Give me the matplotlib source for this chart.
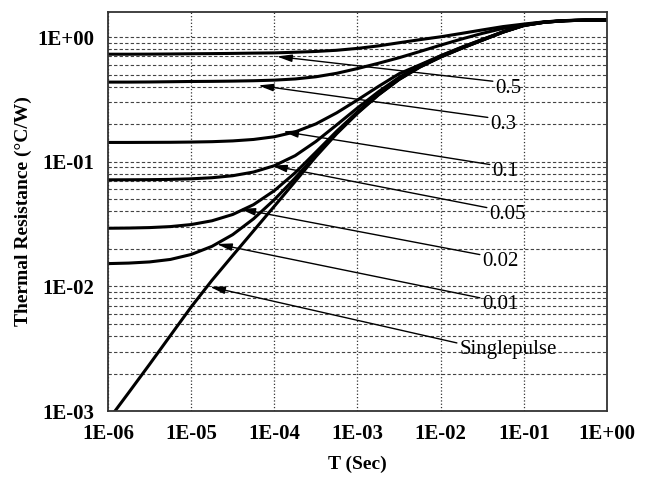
import matplotlib
matplotlib.use('Agg')
import matplotlib.pyplot as plt

# pulse width (s), quarter-decade steps
T = [1e-6, 1.78e-6, 3.16e-6, 5.62e-6, 1e-5, 1.78e-5, 3.16e-5, 5.62e-5,
     1e-4, 1.78e-4, 3.16e-4, 5.62e-4, 1e-3, 1.78e-3, 3.16e-3, 5.62e-3,
     1e-2, 1.78e-2, 3.16e-2, 5.62e-2, 1e-1, 0.178, 0.316, 0.562, 1.0]

# thermal resistance (C/W), one list per duty cycle
z_05 = [0.730, 0.730, 0.731, 0.733, 0.736, 0.738, 0.741, 0.745, 0.748, 0.757, 0.768, 0.785,
        0.813, 0.851, 0.902, 0.955, 1.007, 1.072, 1.143, 1.216, 1.274, 1.328, 1.360, 1.372, 1.374]
z_03 = [0.436, 0.436, 0.437, 0.439, 0.441, 0.442, 0.444, 0.447, 0.452, 0.462, 0.481, 0.513,
        0.560, 0.617, 0.684, 0.767, 0.863, 0.966, 1.072, 1.175, 1.259, 1.326, 1.359, 1.371, 1.374]
z_01 = [0.1430, 0.1430, 0.1432, 0.1434, 0.1440, 0.1450, 0.1471, 0.1511, 0.1588, 0.1737, 0.2014, 0.2471,
        0.3136, 0.4018, 0.5087, 0.600, 0.710, 0.830, 0.957, 1.105, 1.250, 1.322, 1.357, 1.371, 1.374]
z_005 = [0.07165, 0.07172, 0.07188, 0.07222, 0.07299, 0.07450, 0.07731, 0.08276, 0.09302, 0.1120, 0.1455, 0.1978,
         0.2706, 0.3642, 0.4759, 0.5921, 0.7071, 0.8270, 0.9572, 1.103, 1.245, 1.320, 1.356, 1.370, 1.374]
z_002 = [0.02929, 0.02940, 0.02965, 0.03020, 0.03136, 0.03363, 0.03777, 0.04530, 0.05866, 0.08162, 0.1195, 0.1759,
         0.2521, 0.3484, 0.4619, 0.5798, 0.6961, 0.8165, 0.9475, 1.099, 1.242, 1.319, 1.356, 1.370, 1.374]
z_001 = [0.01524, 0.01539, 0.01572, 0.01646, 0.01804, 0.02097, 0.02604, 0.03485, 0.04967, 0.07413, 0.1134, 0.1709,
         0.2479, 0.3449, 0.4588, 0.5770, 0.6935, 0.8142, 0.9453, 1.098, 1.241, 1.318, 1.355, 1.370, 1.374]
z_single = [8.41e-4, 1.41e-3, 2.37e-3, 4.03e-3, 6.84e-3, 0.0112, 0.0177, 0.0279, 0.0440, 0.0695, 0.110, 0.168,
            0.245, 0.343, 0.457, 0.575, 0.692, 0.813, 0.944, 1.096, 1.240, 1.318, 1.355, 1.370, 1.374]

curves = [z_05, z_03, z_01, z_005, z_002, z_001, z_single]
labels = ['0.5', '0.3', '0.1', '0.05', '0.02', '0.01', 'Singlepulse']
# arrow tip on the curve / start of the leader line (data coords)
tips = [(1.07e-4, 0.70), (6.4e-5, 0.41), (1.27e-4, 0.175), (9.3e-5, 0.0933),
        (3.87e-5, 0.0419), (2.03e-5, 0.0219), (1.68e-5, 0.00993)]
starts = [(0.0424, 0.443), (0.0369, 0.227), (0.039, 0.0951), (0.0359, 0.0429),
          (0.0296, 0.0180), (0.0296, 0.0081), (0.01567, 0.00352)]

plt.rcParams['font.family'] = ['Liberation Serif', 'DejaVu Serif']

fig = plt.figure(figsize=(6.51, 4.83), dpi=100)
ax = fig.add_axes([0.1659, 0.149, 0.7665, 0.826])

for z in curves:
    ax.plot(T, z, color='black', lw=2.2, solid_capstyle='butt')

for lab, tip, st in zip(labels, tips, starts):
    ax.annotate('', xy=tip, xytext=st,
                arrowprops=dict(arrowstyle='-|>,head_length=0.9,head_width=0.22',
                                color='black', lw=1.0, shrinkA=0, shrinkB=0, mutation_scale=10))
    ax.annotate(lab, xy=st, xytext=(2, -5), textcoords='offset points',
                ha='left', va='center', fontsize=15)

ax.set_xscale('log')
ax.set_yscale('log')
ax.set_xlim(1e-6, 1)
ax.set_ylim(1e-3, 1.59)

ax.set_xticks([1e-6, 1e-5, 1e-4, 1e-3, 1e-2, 1e-1, 1])
ax.set_xticklabels(['1E-06', '1E-05', '1E-04', '1E-03', '1E-02', '1E-01', '1E+00'])
ax.set_yticks([1e-3, 1e-2, 1e-1, 1])
ax.set_yticklabels(['1E-03', '1E-02', '1E-01', '1E+00'])
ax.minorticks_off()
ax.set_yticks([k * 10.0**e for e in (-3, -2, -1) for k in range(2, 10)], minor=True)
ax.tick_params(which='both', length=0, pad=9, labelsize=15)
ax.tick_params(axis='y', pad=10)
for t in ax.get_xticklabels() + ax.get_yticklabels():
    t.set_fontweight('bold')

ax.grid(True, axis='x', which='major', ls=':', color='#333333', lw=0.9)
ax.grid(True, axis='y', which='both', ls=(0, (3, 2)), color='#444444', lw=0.8)

ax.set_xlabel('T (Sec)', fontsize=14, fontweight='bold', labelpad=9)
ax.set_ylabel('Thermal Resistance (°C/W)', fontsize=14, fontweight='bold', labelpad=4)

for s in ax.spines.values():
    s.set_color('#333333')
    s.set_linewidth(1.3)

fig.savefig('out.png', dpi=100)
